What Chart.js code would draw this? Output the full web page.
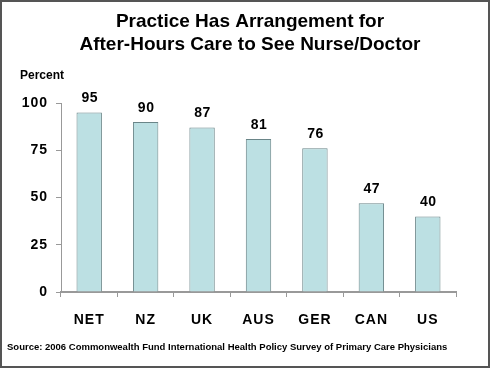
<!DOCTYPE html>
<html>
<head>
<meta charset="utf-8">
<script src="https://cdn.jsdelivr.net/npm/chart.js@4"></script>
<style>
    html, body { margin: 0; padding: 0; background: #fff; }
    #wrap { position: relative; width: 490px; height: 368px; }
</style>
</head>
<body>
<div id="wrap"><canvas id="chart" width="490" height="368"></canvas></div>
<script>
const countries = [ 'NET', 'NZ', 'UK', 'AUS', 'GER', 'CAN', 'US' ];
const percents = [ 95, 90, 87, 81, 76, 47, 40 ];
const yTicks = [ 0, 25, 50, 75, 100 ];
const titleLines = [ 'Practice Has Arrangement for', 'After-Hours Care to See Nurse/Doctor' ];
const sourceNote = 'Source: 2006 Commonwealth Fund International Health Policy Survey of Primary Care Physicians';

const FONT = 'Arial, "Liberation Sans", sans-serif';

// wider letters for the axis and bar numbers, like the original
const spacing = {
    id: 'spacing',
    beforeDraw( chart ) { chart.ctx.letterSpacing = '1px'; },
    afterDraw( chart ) { chart.ctx.letterSpacing = '0px'; }
};

// title, "Percent", source line, frame
const decorations = {
    id: 'decorations',
    afterDraw( chart )
    {
        const c = chart.ctx;
        c.save();
        c.letterSpacing = '0px';
        c.fillStyle = '#000';
        c.textAlign = 'center';
        c.textBaseline = 'middle';
        c.font = 'bold 19px ' + FONT;
        c.fillText( titleLines[ 0 ], 250, 22 );
        c.fillText( titleLines[ 1 ], 250, 45 );

        c.textAlign = 'left';
        c.font = 'bold 12px ' + FONT;
        c.fillText( 'Percent', 20, 76 );

        c.font = 'bold 9.5px ' + FONT;
        c.fillText( sourceNote, 7, 347 );

        c.strokeStyle = '#555';
        c.lineWidth = 2;
        c.strokeRect( 1, 1, 488, 366 );
        c.restore();
    }
};

// numbers over the bars
const barLabels = {
    id: 'barLabels',
    afterDatasetsDraw( chart )
    {
        const c = chart.ctx;
        const meta = chart.getDatasetMeta( 0 );
        c.save();
        c.letterSpacing = '0.5px';
        c.fillStyle = '#000';
        c.font = 'bold 14px ' + FONT;
        c.textAlign = 'center';
        c.textBaseline = 'middle';
        meta.data.forEach( ( bar, i ) =>
        {
            c.fillText( String( percents[ i ] ), bar.x + 0.5, bar.y - 14 );
        } );
        c.restore();
    }
};

new Chart( document.getElementById( 'chart' ), {
    type: 'bar',
    data: {
        labels: countries,
        datasets: [ {
            data: percents,
            backgroundColor: '#bce0e3',
            borderColor: '#6a8588',
            borderWidth: 1,
            barPercentage: 0.45,
            categoryPercentage: 1
        } ]
    },
    options: {
        responsive: false,
        animation: false,
        layout: { padding: { top: 103, right: 34, bottom: 36, left: 0 } },
        plugins: {
            legend: { display: false },
            title: { display: false },
            tooltip: { enabled: false }
        },
        scales: {
            x: {
                grid: { display: true, drawOnChartArea: false, offset: true, tickLength: 5, color: '#999' },
                border: { color: '#999', width: 2 },
                ticks: { color: '#000', font: { family: FONT, size: 14, weight: 'bold' }, padding: 15 },
                afterFit( axis ) { axis.height = 40; }
            },
            y: {
                min: 0,
                max: 100,
                afterBuildTicks( axis ) { axis.ticks = yTicks.map( v => ( { value: v } ) ); },
                grid: { display: true, drawOnChartArea: false, tickLength: 5, color: '#999' },
                border: { color: '#999', width: 1 },
                ticks: { color: '#000', font: { family: FONT, size: 14, weight: 'bold' }, padding: 8 },
                afterFit( axis ) { axis.width = 61; }
            }
        }
    },
    plugins: [ spacing, decorations, barLabels ]
} );
</script>
</body>
</html>
